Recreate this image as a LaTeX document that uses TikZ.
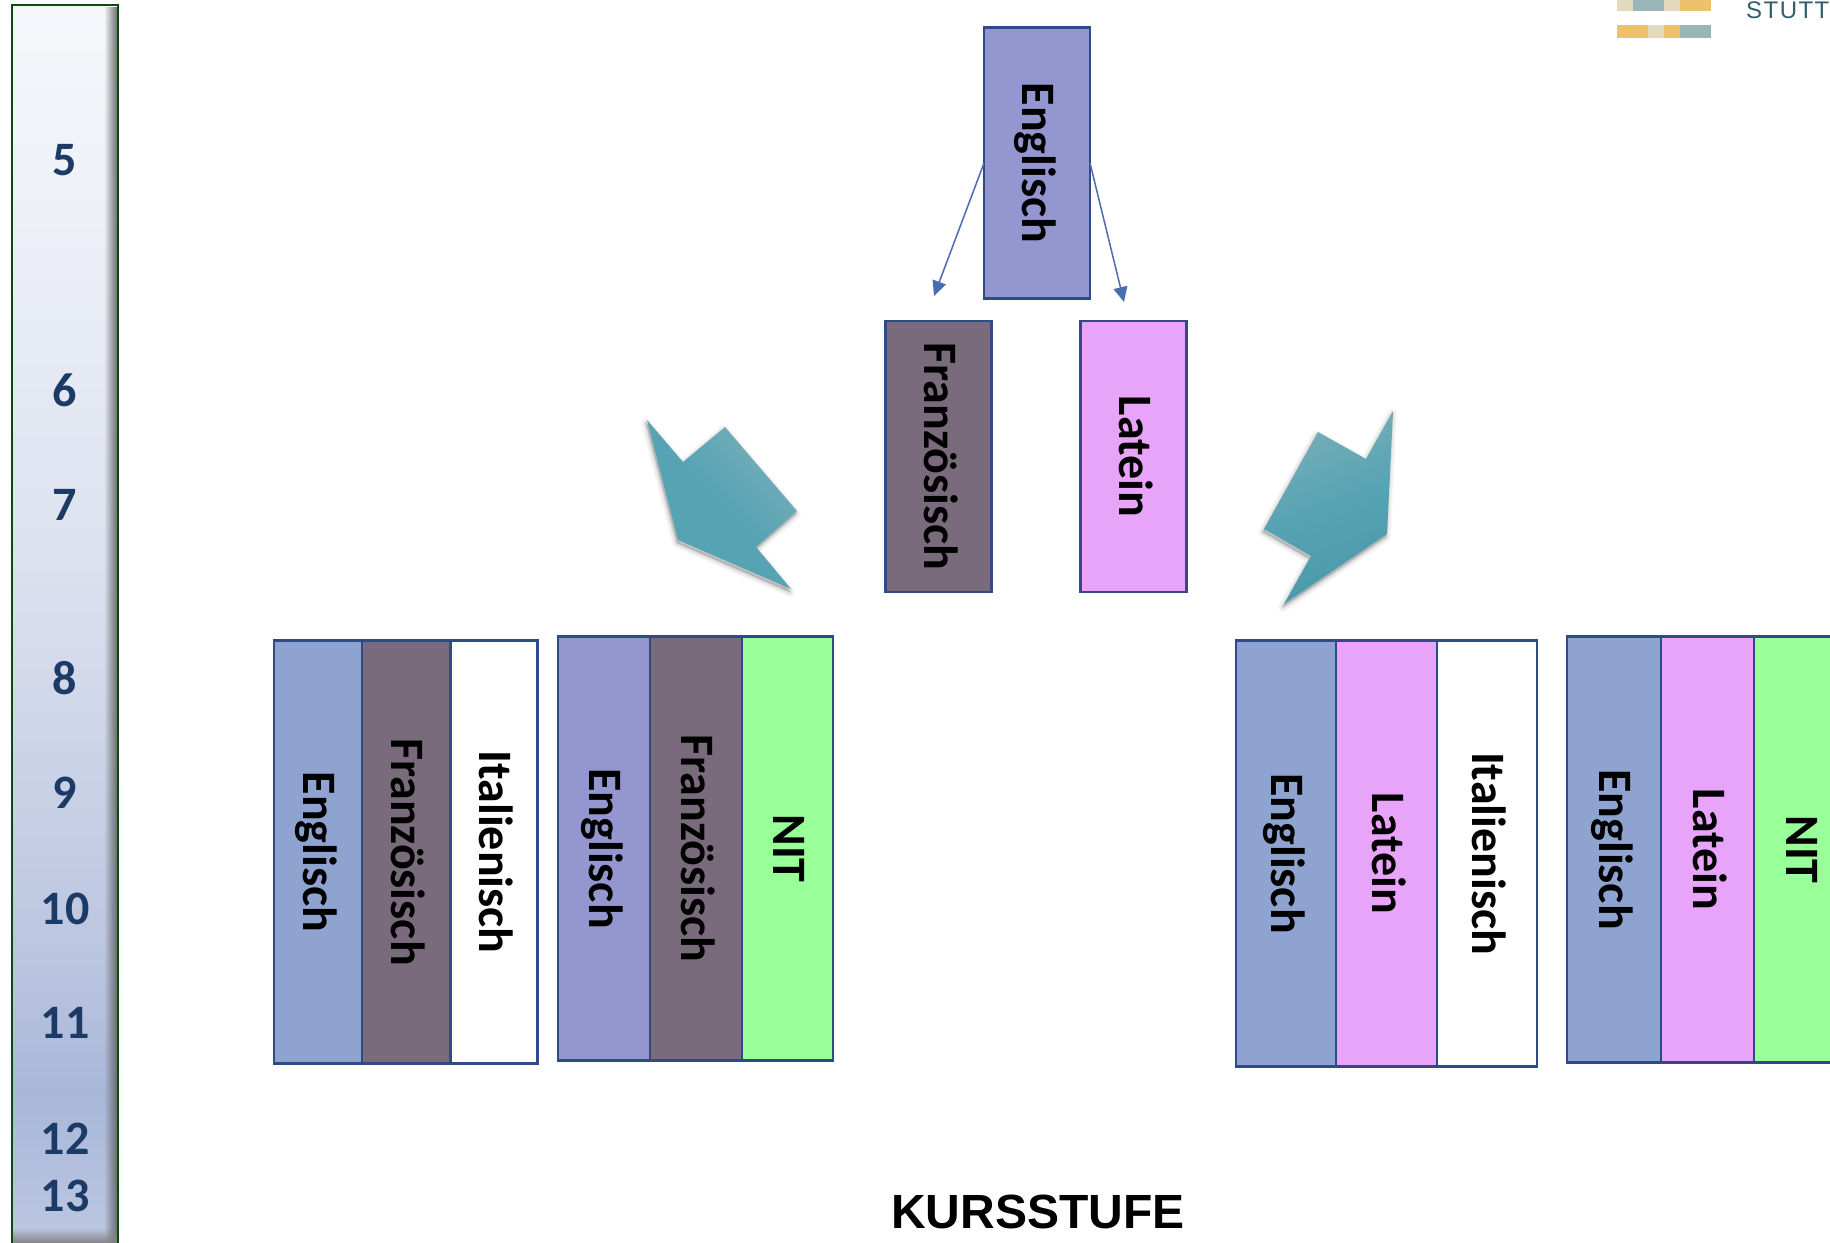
\documentclass[tikz,border=0pt]{standalone}
\usepackage{fontspec}
\setmainfont{Carlito}
\newfontfamily\headfont{Liberation Sans}
\newfontfamily\logofont[LetterSpace=6]{Liberation Sans}
\usetikzlibrary{arrows.meta,fadings}
\definecolor{boxline}{HTML}{2F4B85}
\definecolor{enga}{HTML}{9497CF}
\definecolor{engb}{HTML}{8FA3D0}
\definecolor{fra}{HTML}{796A7C}
\definecolor{lat}{HTML}{E8A4F8}
\definecolor{nit}{HTML}{99FF99}
\definecolor{arrowblue}{HTML}{4A6CB0}
\definecolor{numblue}{HTML}{1B3A66}
\definecolor{barline}{HTML}{0B4A10}
\definecolor{logoy}{HTML}{ECC26C}
\definecolor{logob}{HTML}{E3D9BD}
\definecolor{logot}{HTML}{9AB5B8}
\definecolor{logotext}{HTML}{2F5F6E}
\definecolor{barA}{HTML}{BCC7E2}
\definecolor{barB}{HTML}{A9B7D8}
\definecolor{barC}{HTML}{B9C4DF}
\definecolor{barD}{HTML}{DCE1EF}
\definecolor{barE}{HTML}{EEF1F8}
\definecolor{barF}{HTML}{F6F7FB}
\definecolor{tealL}{HTML}{78AEB8}
\definecolor{tealM}{HTML}{56A3B3}
\definecolor{tealD}{HTML}{4A98A8}
\pgfdeclareverticalshading{barshade}{100bp}{color(0bp)=(barA); color(25bp)=(barA); color(31bp)=(barB); color(36bp)=(barC); color(52.5bp)=(barD); color(67.5bp)=(barE); color(75bp)=(barF); color(100bp)=(barF)}
\tikzset{
  x=1pt,y=-1pt,
  box/.style={draw=boxline,line width=2.8pt,inner sep=0pt,outer sep=0pt,font=\fontsize{48}{48}\selectfont\bfseries,text=black},
  tall/.style={box,minimum width=106pt,minimum height=271pt},
  num/.style={font=\fontsize{48}{48}\selectfont\bfseries,text=numblue,inner sep=0pt},
  thin/.style={draw=arrowblue,line width=1.5pt,-{Triangle[length=15pt,width=14pt]}}
}
\newcommand{\vtxt}[1]{\rotatebox{-90}{\rule[-9pt]{0pt}{47pt}#1}}
\newcommand{\arrowone}{(647,420) -- (683,462) -- (725,427) -- (797,511) -- (756,547) -- (791,589) -- (678,540) -- cycle}
\newcommand{\arrowtwo}{(1393,411) -- (1366,459) -- (1318,432) -- (1264,529) -- (1311,556) -- (1284,604) -- (1387,534) -- cycle}
\begin{document}
\begin{tikzpicture}
\useasboundingbox (0,0) rectangle (1830,1242);
\clip (0,0) rectangle (1830,1242);
% side bar
\path[shading=barshade] (12,5) rectangle (118,1244);
\fill[black!60,path fading=west] (104,5) rectangle (118,1244);
\fill[black!50,path fading=north] (12,1228) rectangle (118,1244);
\draw[barline,line width=2.6pt] (12,1244) -- (12,5) -- (118,5) -- (118,1244);
\node[num] (g5) at (65,160) {5};
\node[num] (g6) at (65,390) {6};
\node[num] (g7) at (65,505) {7};
\node[num] (g8) at (65,678) {8};
\node[num] (g9) at (65,793) {9};
\node[num] (g10) at (65,909) {10};
\node[num] (g11) at (65,1023) {11};
\node[num] (g12) at (65,1139) {12};
\node[num] (g13) at (65,1196) {13};
% logo
\fill[logob] (1617,0) rectangle (1633,11);
\fill[logot] (1633,0) rectangle (1664,11);
\fill[logob] (1664,0) rectangle (1680,11);
\fill[logoy] (1680,0) rectangle (1711,11);
\fill[logoy] (1617,25) rectangle (1648,38);
\fill[logob] (1648,25) rectangle (1664,38);
\fill[logoy] (1664,25) rectangle (1680,38);
\fill[logot] (1680,25) rectangle (1711,38);
\node[anchor=base west,inner sep=0pt,text=logotext,font=\fontsize{24}{24}\selectfont\logofont] (logotxt) at (1746,18) {STUTT};
% top boxes
\node[tall,fill=enga] (eng) at (1037,163) {\vtxt{Englisch}};
\node[tall,fill=fra] (fra) at (938.5,456.5) {\vtxt{Französisch}};
\node[tall,fill=lat] (lat) at (1133.5,456.5) {\vtxt{Latein}};
\coordinate (ta) at (934,296);
\coordinate (tb) at (1124,302);
\draw[thin] (eng.west) -- (ta);
\draw[thin] (eng.east) -- (tb);
% big arrows: soft shadow, then the shape
\foreach \w/\o in {10/.03,7/.04,4/.05,2/.06}{
  \begin{scope}[shift={(-1,3)}]
  \filldraw[black,opacity=\o,line width=\w pt,line join=round] \arrowone;
  \filldraw[black,opacity=\o,line width=\w pt,line join=round] \arrowtwo;
  \end{scope}
}
\shade[top color=tealL,bottom color=tealM,shading angle=-45,middle color=tealM] \arrowone;
\shade[left color=tealL,right color=tealD,middle color=tealM,shading angle=20] \arrowtwo;
% left column groups
\node[box,fill=engb,minimum width=88pt,minimum height=423pt] (a1) at (318,852) {\vtxt{Englisch}};
\node[box,fill=fra,minimum width=88pt,minimum height=423pt] (a2) at (406,852) {\vtxt{Französisch}};
\node[box,fill=white,minimum width=87pt,minimum height=423pt] (a3) at (494,852) {\vtxt{Italienisch}};
\node[box,fill=enga,minimum width=92pt,minimum height=424pt] (b1) at (604,848.5) {\vtxt{Englisch}};
\node[box,fill=fra,minimum width=92pt,minimum height=424pt] (b2) at (696,848.5) {\vtxt{Französisch}};
\node[box,fill=nit,minimum width=91pt,minimum height=424pt] (b3) at (787.5,848.5) {\vtxt{NIT}};
% right column groups
\node[box,fill=engb,minimum width=100pt,minimum height=426pt] (c1) at (1286,853.5) {\vtxt{Englisch}};
\node[box,fill=lat,minimum width=101pt,minimum height=426pt] (c2) at (1386.5,853.5) {\vtxt{Latein}};
\node[box,fill=white,minimum width=100pt,minimum height=426pt] (c3) at (1487,853.5) {\vtxt{Italienisch}};
\node[box,fill=engb,minimum width=94pt,minimum height=426pt] (d1) at (1614,849.5) {\vtxt{Englisch}};
\node[box,fill=lat,minimum width=93pt,minimum height=426pt] (d2) at (1707.5,849.5) {\vtxt{Latein}};
\node[box,fill=nit,minimum width=94pt,minimum height=426pt] (d3) at (1801,849.5) {\vtxt{NIT}};
% heading
\node[inner sep=0pt,font=\fontsize{48}{48}\selectfont\headfont\bfseries] (kurs) at (1038,1212) {KURSSTUFE};
\end{tikzpicture}
\end{document}
